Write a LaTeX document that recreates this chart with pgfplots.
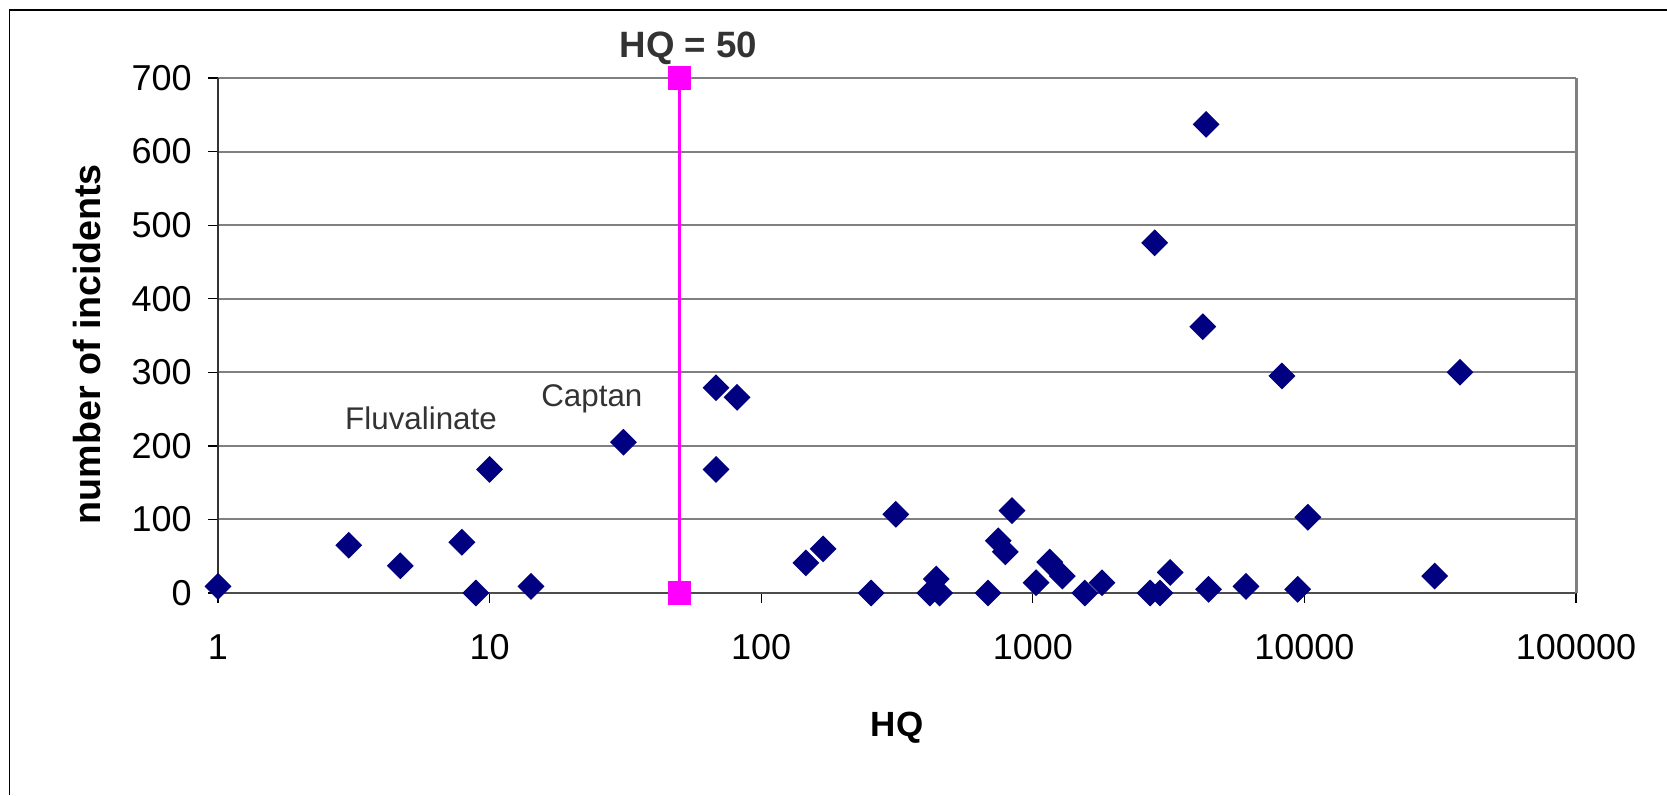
\documentclass[border=0pt]{standalone}
\usepackage{fontspec}
\setmainfont{Liberation Sans}
\usepackage{pgfplots}
\pgfplotsset{compat=1.18}

\definecolor{navy}{HTML}{000080}
\definecolor{hqline}{HTML}{FF00FF}
\definecolor{gridgray}{HTML}{808080}
\definecolor{txt}{HTML}{333333}

\begin{document}
\begin{tikzpicture}
% page is 1667 x 795 px at 0.3pt per px
\useasboundingbox (0,0) rectangle (500.1pt,-238.5pt);
\draw[black, line width=0.4pt] (500.1pt,-3pt) -- (2.85pt,-3pt) -- (2.85pt,-238.5pt);

\begin{axis}[
    at={(65.4pt,-177.9pt)}, anchor=south west,
    scale only axis,
    width=407.4pt, height=154.5pt,
    xmode=log,
    xmin=1, xmax=100000,
    ymin=0, ymax=700,
    xtick={1,10,100,1000,10000,100000},
    xticklabels={1,10,100,1000,10000,100000},
    xminorticks=false,
    ytick={0,100,...,700},
    axis x line*=bottom,
    axis y line*=left,
    hide obscured x ticks=false,
    hide obscured y ticks=false,
    x axis line style={black!70, line width=0.6pt},
    y axis line style={black!80, line width=0.6pt},
    tick align=outside,
    major tick length=3pt,
    tick style={black, line width=0.4pt},
    ymajorgrids=true,
    grid style={gridgray, line width=0.6pt},
    /pgf/number format/assume math mode=true,
    ticklabel style={font=\fontsize{10.8}{12}\selectfont},
    xticklabel style={yshift=-6pt},
    yticklabel style={xshift=-1.4pt},
    xlabel={HQ},
    ylabel={number of incidents},
    xlabel style={font=\fontsize{10.5}{12}\selectfont\bfseries,
        at={(axis description cs:0.5,0)}, anchor=center, yshift=-40.5pt},
    ylabel style={font=\fontsize{11.3}{13}\selectfont\bfseries,
        at={(axis description cs:0,0.483)}, anchor=center, yshift=39.3pt},
    clip=false,
]

% right border of the plot area
\draw[gridgray, line width=0.9pt] (rel axis cs:1,0) -- (rel axis cs:1,1);

\addplot[only marks, mark=square*, mark size=2.65pt,
    mark options={rotate=45, fill=navy, draw=navy}] coordinates {
    (1,9) (3.03,65) (4.69,37) (7.91,69) (8.9,0) (10,168) (14.2,9)
    (31.1,205) (68.2,279) (81.5,266) (68.2,168) (146,41) (169,60)
    (254,0) (313,107) (441,19) (418,0) (454,0) (684,0) (746,71)
    (792,56) (838,112) (1028,14) (1154,42) (1284,23) (1554,0)
    (1798,14) (2704,0) (2940,0) (3206,28) (4436,5) (6095,9)
    (9445,5) (10300,103) (30180,23) (4345,637) (2810,476)
    (4225,362) (8265,295) (37400,300)
};

\addplot[hqline, line width=0.8pt, mark=square*, mark size=3.1pt,
    mark options={fill=hqline, draw=hqline}] coordinates {
    (50,0) (50,700)
};

\node[txt, font=\fontsize{11}{13}\selectfont\bfseries, anchor=center]
    at (axis cs:54,700) [yshift=9pt] {HQ = 50};
\node[txt, font=\fontsize{9.4}{11}\selectfont, anchor=center]
    at (axis cs:5.59,238) {Fluvalinate};
\node[txt, font=\fontsize{9.4}{11}\selectfont, anchor=center]
    at (axis cs:23.8,264) {Captan};
\end{axis}
\end{tikzpicture}
\end{document}
